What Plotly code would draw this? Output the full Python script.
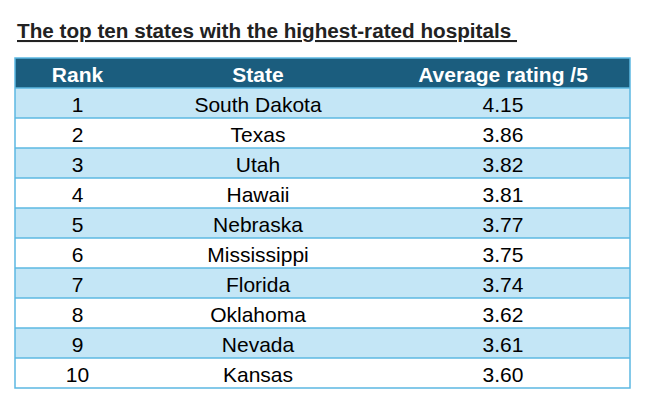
import plotly.graph_objects as go

# --- data
title = "The top ten states with the highest-rated hospitals"
columns = ["Rank", "State", "Average rating /5"]
ranks = ["1", "2", "3", "4", "5", "6", "7", "8", "9", "10"]
states = ["South Dakota", "Texas", "Utah", "Hawaii", "Nebraska",
          "Mississippi", "Florida", "Oklahoma", "Nevada", "Kansas"]
ratings = ["4.15", "3.86", "3.82", "3.81", "3.77",
           "3.75", "3.74", "3.62", "3.61", "3.60"]

# the page puts the plot 8px in from the window corner, so work in plot pixels
OFF = 8
W, H = 650 - OFF, 416 - OFF
row_h = 30
left, right, top = 15 - OFF, 630 - OFF, 58 - OFF

header_col = "#1b5d7e"
band_col = "#c4e6f6"
line_col = "#5cb8e2"
font = "Liberation Sans, Arial, sans-serif"

n = len(ranks)
row_fill = [band_col if i % 2 == 0 else "white" for i in range(n)]

fig = go.Figure(go.Table(
    domain=dict(x=[left / W, right / W], y=[0, 1 - top / H]),
    columnwidth=[125, 236, 254],
    header=dict(values=columns,
                fill_color=header_col, line_width=0, height=row_h,
                align="center",
                font=dict(family=font, size=21, color="white", weight="bold")),
    cells=dict(values=[ranks, states, ratings],
               fill_color=[row_fill] * 3, line_width=0, height=row_h,
               align="center", font=dict(family=font, size=21, color="black")),
))

# row separators and outer border
shapes = []
for i in range(1, n + 1):
    y = 1 - (top + row_h * i) / H
    shapes.append(dict(type="line", xref="paper", yref="paper",
                       x0=left / W, x1=right / W, y0=y, y1=y,
                       line=dict(color=line_col, width=1.5)))
shapes.append(dict(type="rect", xref="paper", yref="paper",
                   x0=left / W, x1=right / W,
                   y0=1 - (top + row_h * (n + 1)) / H, y1=1 - top / H,
                   line=dict(color=line_col, width=1.5)))

fig.update_layout(
    width=W, height=H,
    margin=dict(l=0, r=0, t=0, b=0),
    paper_bgcolor="white",
    shapes=shapes,
    annotations=[dict(text="<u><b>%s&nbsp;</b></u>" % title,
                      xref="paper", yref="paper", x=(15 - OFF) / W, y=1 - (30 - OFF) / H,
                      xanchor="left", yanchor="middle", showarrow=False,
                      font=dict(family=font, size=20.7, color="#222222"))],
)

fig.write_html("out.html")
